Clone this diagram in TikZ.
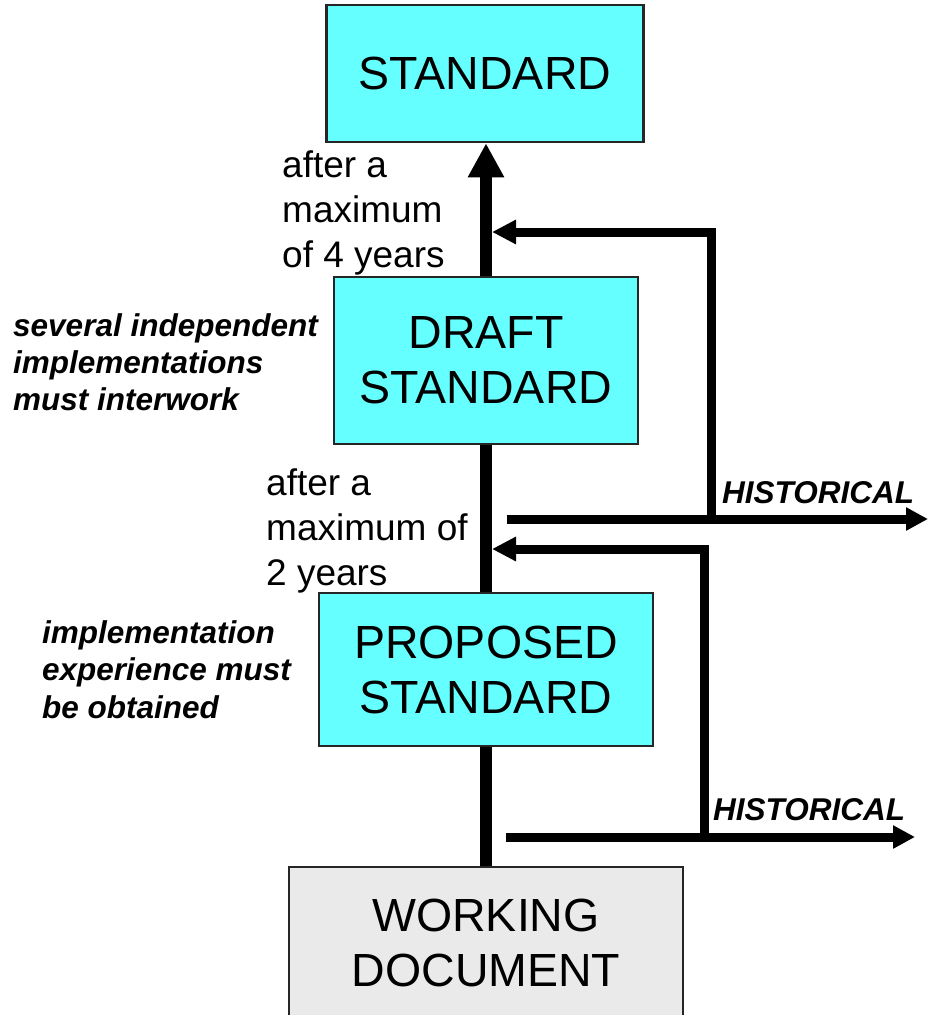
\documentclass[tikz,border=0pt]{standalone}
\usepackage{fontspec}
\setmainfont{Liberation Sans}
\usetikzlibrary{arrows.meta}
\definecolor{boxcyan}{HTML}{66FFFF}
\definecolor{boxgray}{HTML}{EAEAEA}
\begin{document}
\begin{tikzpicture}[x=1pt,y=-1pt,
  box/.style={draw=black!85, line width=2.5pt, fill=boxcyan, align=center, inner sep=0pt,
              font=\fontsize{46.5}{55}\selectfont},
  mainline/.style={line width=12pt, black},
  fb/.style={line width=9pt, black},
  lbl/.style={anchor=base west, inner sep=0pt, font=\fontsize{37}{45}\selectfont},
  note/.style={anchor=base west, inner sep=0pt, font=\fontsize{31.5}{37}\selectfont\bfseries\itshape}]
\clip (0,0) rectangle (930,1015);

% boxes
\node[box, minimum width=317pt, minimum height=137pt] (std) at (485,73.5) {STANDARD};
\node[box, minimum width=304pt, minimum height=167pt] (dra) at (486,360.5) {DRAFT\\STANDARD};
\node[box, minimum width=334pt, minimum height=153pt] (pro) at (486,669.5) {PROPOSED\\STANDARD};
\node[box, fill=boxgray, minimum width=394pt, minimum height=152pt] (wd) at (486,943) {WORKING\\DOCUMENT};

% main line
\draw[mainline] (wd.north) -- (pro.south) (pro.north) -- (dra.south);
\draw[mainline, -{Triangle[length=34pt,width=34pt]}] (dra.north) -- (dra.north |- std.south);

% side connectors
\coordinate (t1) at (492,232);
\coordinate (v1) at (711,519);
\coordinate (h1s) at (507,519);
\coordinate (h1e) at (928,519);
\coordinate (t2) at (492,549);
\coordinate (v2) at (704,837);
\coordinate (h2s) at (506,837);
\coordinate (h2e) at (915,837);

\draw[fb, -{Triangle[length=24pt,width=23pt]}] (v1) |- (t1);
\draw[fb, -{Triangle[length=22pt,width=22pt]}] (h1s) -- (h1e);
\draw[fb, -{Triangle[length=24pt,width=23pt]}] (v2) |- (t2);
\draw[fb, -{Triangle[length=22pt,width=22pt]}] (h2s) -- (h2e);

% labels
\node[lbl] (a4a) at (282,177) {after a};
\node[lbl] (a4b) at (282,222) {maximum};
\node[lbl] (a4c) at (282,267) {of 4 years};

\node[lbl] (a2a) at (266,495) {after a};
\node[lbl] (a2b) at (266,540) {maximum of};
\node[lbl] (a2c) at (266,585) {2 years};

\node[note] (n1a) at (13,336) {several independent};
\node[note] (n1b) at (13,373) {implementations};
\node[note] (n1c) at (13,410) {must interwork};

\node[note] (n2a) at (42,643) {implementation};
\node[note] (n2b) at (42,680) {experience must};
\node[note] (n2c) at (42,718) {be obtained};

\node[note] (hist1) at (722,503) {HISTORICAL};
\node[note] (hist2) at (713,820) {HISTORICAL};
\end{tikzpicture}
\end{document}
